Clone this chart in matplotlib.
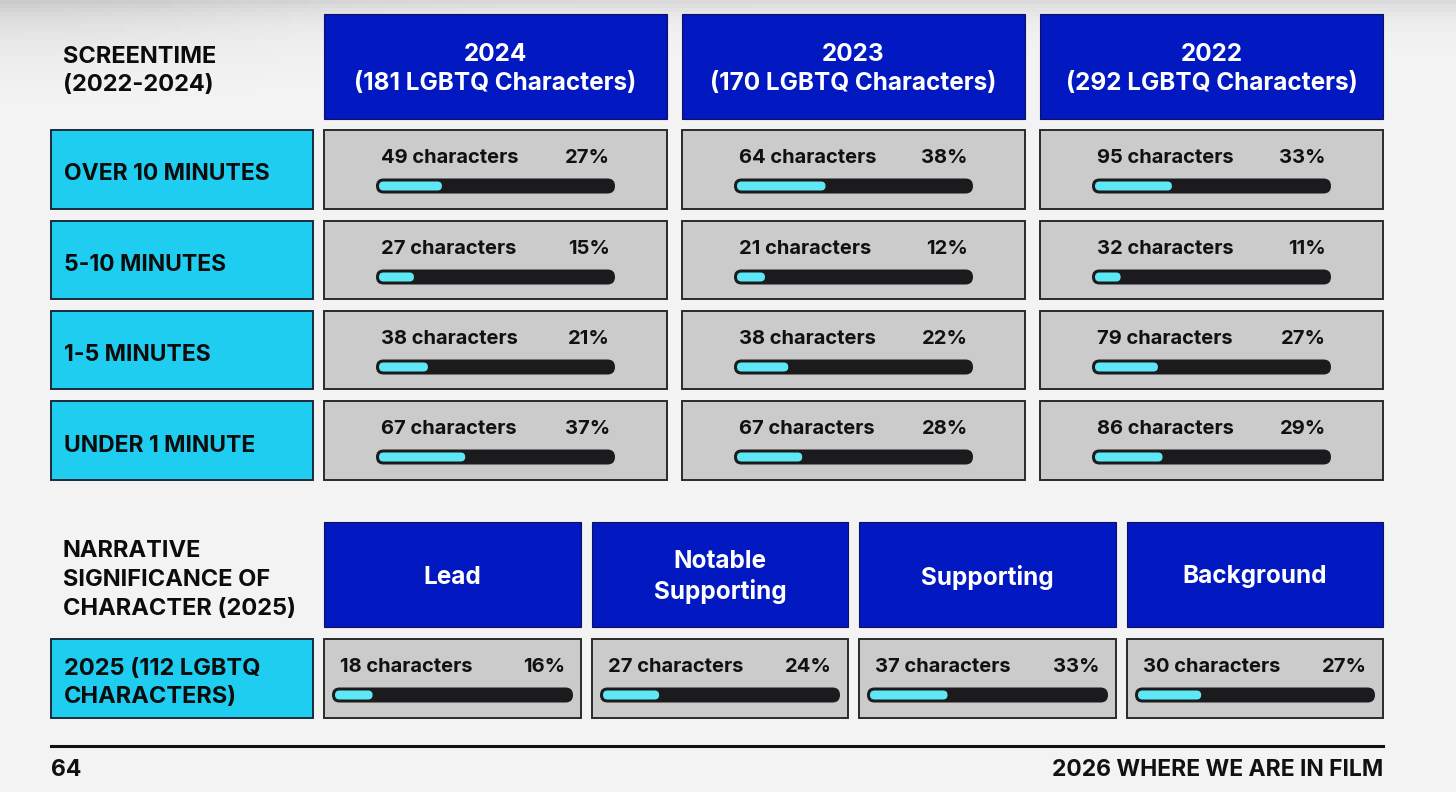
import numpy as np
import matplotlib
matplotlib.use('Agg')
import matplotlib.pyplot as plt
from matplotlib.patches import Rectangle, FancyBboxPatch

plt.rcParams['font.family'] = ['Inter', 'DejaVu Sans']

# data
years = ['2024', '2023', '2022']
year_totals = [181, 170, 292]
screentime_rows = ['OVER 10 MINUTES', '5-10 MINUTES', '1-5 MINUTES', 'UNDER 1 MINUTE']
counts_2024 = [49, 27, 38, 67]
pct_2024 = [27, 15, 21, 37]
counts_2023 = [64, 21, 38, 67]
pct_2023 = [38, 12, 22, 28]
counts_2022 = [95, 32, 79, 86]
pct_2022 = [33, 11, 27, 29]
roles = ['Lead', 'Notable\nSupporting', 'Supporting', 'Background']
role_counts = [18, 27, 37, 30]
role_pct = [16, 24, 33, 27]
role_year_label = '2025 (112 LGBTQ\nCHARACTERS)'

BLUE = '#0218c0'
CYAN = '#1ecdf0'
GRAY = '#cbcbcb'
DARK = '#1b1a1c'
FILL = '#5ee8f6'
BG = '#f3f3f3'
INK = '#0c0c0c'

W, H = 1456, 792
fig = plt.figure(figsize=(W / 100, H / 100), dpi=100)
ax = fig.add_axes([0, 0, 1, 1])
ax.set_xlim(0, W)
ax.set_ylim(H, 0)
ax.axis('off')

# background with soft shadow at the top
yy, xx = np.mgrid[0:H:4, 0:W:4]
shade = 0.953 - 0.10 * np.exp(-yy / 16.0) - 0.06 * np.exp(-((xx / 300.0) ** 2 + (yy / 60.0) ** 2))
ax.imshow(shade, cmap='gray', vmin=0, vmax=1, extent=[0, W, H, 0], zorder=0, aspect='auto')


def cell(x0, x1, y0, y1, n, p, bar_in, txt_in, fs=14.5):
    ax.add_patch(Rectangle((x0, y0), x1 - x0, y1 - y0, facecolor=GRAY,
                           edgecolor='#2a2a2a', lw=1.4, zorder=2))
    bx0, bx1 = x0 + bar_in, x1 - bar_in
    by = y0 + 56
    ax.text(x0 + txt_in, y0 + 28, '%d characters' % n, fontsize=fs, fontweight='bold',
            color='#111111', ha='left', va='center', zorder=3)
    ax.text(x1 - txt_in, y0 + 28, '%d%%' % p, fontsize=fs, fontweight='bold',
            color='#111111', ha='right', va='center', zorder=3)
    h = 15
    ax.add_patch(FancyBboxPatch((bx0, by - h / 2), bx1 - bx0, h,
                                boxstyle='round,pad=0,rounding_size=%f' % (h / 2),
                                facecolor=DARK, edgecolor='none', zorder=3))
    fh = 9
    fw = (bx1 - bx0 - 6) * p / 100.0
    ax.add_patch(FancyBboxPatch((bx0 + 3, by - fh / 2), fw, fh,
                                boxstyle='round,pad=0,rounding_size=%f' % (fh / 2),
                                facecolor=FILL, edgecolor='none', zorder=4))


# ---- screentime section
ax.text(63, 71, 'SCREENTIME\n(2022-2024)', fontsize=17, fontweight='bold', color=INK,
        ha='left', va='center', linespacing=1.3)
col_x = [(324, 667), (682, 1025), (1040, 1383)]
row_y = [(130, 209), (221, 299), (311, 389), (401, 480)]
counts = [counts_2024, counts_2023, counts_2022]
pcts = [pct_2024, pct_2023, pct_2022]
for j, (x0, x1) in enumerate(col_x):
    ax.add_patch(Rectangle((x0, 14), x1 - x0, 105, facecolor=BLUE, edgecolor='#101060',
                           lw=0.8, zorder=2))
    ax.text((x0 + x1) / 2, 69, '%s\n(%d LGBTQ Characters)' % (years[j], year_totals[j]),
            fontsize=17.5, fontweight='bold', color='white', ha='center', va='center',
            linespacing=1.35, zorder=3)
for i, (y0, y1) in enumerate(row_y):
    ax.add_patch(Rectangle((51, y0), 262, y1 - y0, facecolor=CYAN, edgecolor='#1a2a3a',
                           lw=1.4, zorder=2))
    ax.text(64, (y0 + y1) / 2 + 5, screentime_rows[i], fontsize=16.5, fontweight='bold',
            color=INK, ha='left', va='center', zorder=3)
    for j, (x0, x1) in enumerate(col_x):
        cell(x0, x1, y0, y1, counts[j][i], pcts[j][i], 52, 57)

# ---- narrative significance section
ax.text(63, 580, 'NARRATIVE\nSIGNIFICANCE OF\nCHARACTER (2025)', fontsize=17, fontweight='bold',
        color=INK, ha='left', va='center', linespacing=1.4)
role_x = [(324, 581), (592, 848), (859, 1116), (1127, 1383)]
ax.add_patch(Rectangle((51, 639), 262, 79, facecolor=CYAN, edgecolor='#1a2a3a', lw=1.4, zorder=2))
ax.text(64, 683, role_year_label, fontsize=17, fontweight='bold', color=INK,
        ha='left', va='center', linespacing=1.3, zorder=3)
for j, (x0, x1) in enumerate(role_x):
    ax.add_patch(Rectangle((x0, 522), x1 - x0, 105, facecolor=BLUE, edgecolor='#101060',
                           lw=0.8, zorder=2))
    ax.text((x0 + x1) / 2, 577, roles[j], fontsize=17.5, fontweight='bold', color='white',
            ha='center', va='center', linespacing=1.25, zorder=3)
    cell(x0, x1, 639, 718, role_counts[j], role_pct[j], 8, 16)

# ---- footer
ax.plot([51, 1383], [746, 746], color='#111111', lw=2.2, zorder=2)
ax.text(51, 770, '64', fontsize=16.5, fontweight='bold', color='#111111', ha='left', va='center')
ax.text(1383, 770, '2026 WHERE WE ARE IN FILM', fontsize=16.5, fontweight='bold',
        color='#111111', ha='right', va='center')

fig.savefig('out.png', dpi=100, facecolor=BG)
